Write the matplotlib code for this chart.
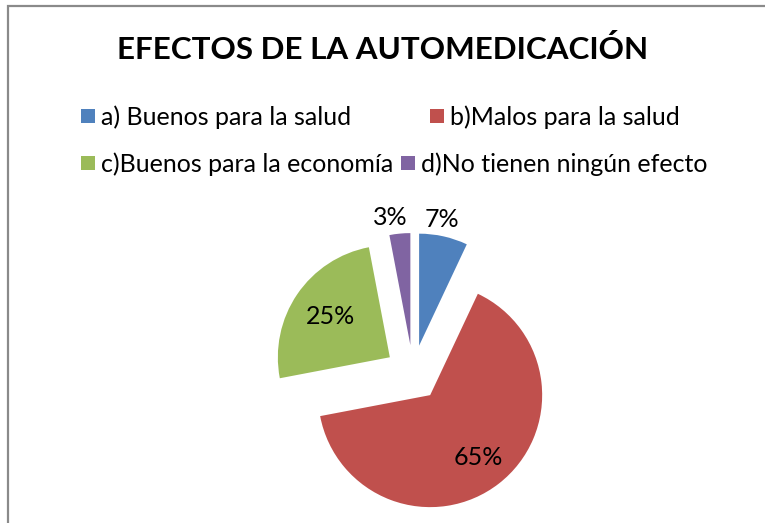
import matplotlib
matplotlib.use("Agg")
import matplotlib.pyplot as plt
from matplotlib.patches import Rectangle
import numpy as np

# data
categories = ["a) Buenos para la salud", "b)Malos para la salud",
              "c)Buenos para la economía", "d)No tienen ningún efecto"]
values = [7, 65, 25, 3]
colors = ["#4F81BD", "#C0504D", "#9BBB59", "#8064A2"]

plt.rcParams['font.family'] = ['Lato', 'DejaVu Sans']

W, H = 765, 523
fig = plt.figure(figsize=(W / 100, H / 100), dpi=100)
ax = fig.add_axes([0, 0, 1, 1])

# pie, pixel coords with y up
cx, cy, R = 413, H - 373, 112
# explode offset is absolute in matplotlib, so scale by radius
wedges, texts, autotexts = ax.pie(values, colors=colors, startangle=90,
                                  counterclock=False, explode=[0.25 * R] * 4,
                                  center=(cx, cy), radius=R,
                                  autopct='%1.0f%%',
                                  wedgeprops=dict(linewidth=0),
                                  textprops=dict(fontsize=18, color='black'))

# move labels (Excel "best fit" style): distance from wedge's own centre
label_dist = [1.14, 0.70, 0.64, 1.15]
label_rot = [2.5, 0, 0, 3.5]   # small angular nudge, degrees
for w, t, d, da in zip(wedges, autotexts, label_dist, label_rot):
    ang = np.deg2rad((w.theta1 + w.theta2) / 2 + da)
    x0, y0 = w.center
    t.set_position((x0 + d * R * np.cos(ang), y0 + d * R * np.sin(ang)))
    t.set_ha('center'); t.set_va('center')

ax.set_xlim(0, W)
ax.set_ylim(0, H)
ax.set_aspect('equal')
ax.axis('off')

# chart border (right and bottom edges fall outside the picture)
ax.add_patch(Rectangle((8.5, -10), W + 10, H - 5.5 + 10, fill=False,
                       edgecolor='#8a8a8a', linewidth=1.6, clip_on=False))

# title
ax.text(W / 2, H - 59, "EFECTOS DE LA AUTOMEDICACIÓN", ha='center',
        va='baseline', fontsize=22.6, fontweight='bold')

# legend, laid out by rows like Excel does
leg_x = [81, 430, 81, 401]
leg_y = [125, 125, 172, 172]
for lab, col, x, y in zip(categories, colors, leg_x, leg_y):
    ax.add_patch(Rectangle((x, H - y + 2), 14, 14, facecolor=col,
                           edgecolor='none'))
    ax.text(x + 20, H - y, lab, ha='left', va='baseline', fontsize=18)

fig.savefig("out.png", dpi=100)
